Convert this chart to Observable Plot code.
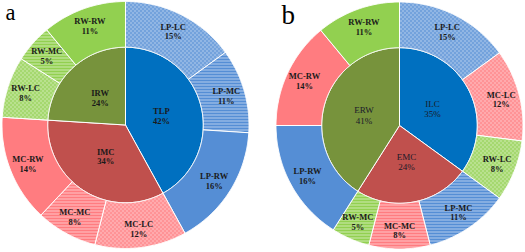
<!DOCTYPE html>
<html><head><meta charset="utf-8">
<script src="https://cdn.jsdelivr.net/npm/d3@7"></script>
<script src="https://cdn.jsdelivr.net/npm/@observablehq/plot@0.6"></script>
<style>
html,body{margin:0;padding:0;background:#fff;}
#wrap{position:relative;width:525px;height:252px;overflow:hidden;}
</style></head><body>
<div id="wrap"></div>
<script>
// ---- data ----
const panelLabels = ["a", "b"];
const innerA = ["TLP", "IMC", "IRW"];
const innerAValues = [42, 34, 24];
const outerA = ["LP-LC", "LP-MC", "LP-RW", "MC-LC", "MC-MC", "MC-RW", "RW-LC", "RW-MC", "RW-RW"];
const outerAValues = [15, 11, 16, 12, 8, 14, 8, 5, 11];
const innerB = ["ILC", "EMC", "ERW"];
const innerBValues = [35, 24, 41];
const outerB = ["LP-LC", "MC-LC", "RW-LC", "LP-MC", "MC-MC", "RW-MC", "LP-RW", "MC-RW", "RW-RW"];
const outerBValues = [15, 12, 8, 11, 8, 5, 16, 14, 11];

// ---- styles ----
const innerColors = {blue: "#0070C0", red: "#C0504D", olive: "#77933C"};
const innerColorOf = {TLP: "blue", IMC: "red", IRW: "olive", ILC: "blue", EMC: "red", ERW: "olive"};
const outerBase = {LP: "#558ED5", MC: "#FF7C80", RW: "#92D050"};

// ---- layout ----
const W = 525, H = 252, unit = 123.5;
const centers = [{cx: 0, cy: 0}, {cx: (399 - 125) / unit, cy: (124.5 - 125) / unit}];
const rInner = 0.63, rOuter = 1, rLabOut = 0.85, rLabIn = 0.3;
const panelPos = [{dx: 5, dy: 12.5, size: 22.5}, {dx: 281, dy: 14.5, size: 27}];

function outerFill(name) {
  const [src, dst] = name.split("-");
  if (dst === "RW") return outerBase[src];
  return `url(#${dst}-${src})`;
}

const polys = [];
const labels = [];
function addSlice(id, cx, cy, r0, r1, a0, a1, fill) {
  const n = Math.max(2, Math.ceil((a1 - a0) * 720));
  const pts = [];
  for (let i = 0; i <= n; i++) {
    const t = 2 * Math.PI * (a0 + (a1 - a0) * i / n);
    pts.push([cx + r1 * Math.sin(t), cy + r1 * Math.cos(t)]);
  }
  if (r0 > 0) {
    for (let i = n; i >= 0; i--) {
      const t = 2 * Math.PI * (a0 + (a1 - a0) * i / n);
      pts.push([cx + r0 * Math.sin(t), cy + r0 * Math.cos(t)]);
    }
  } else pts.push([cx, cy]);
  pts.push(pts[0]);
  for (const [x, y] of pts) polys.push({id, x, y, fill});
}
function addRing(key, names, values, cx, cy, r0, r1, rl, inner, bold) {
  const tot = d3.sum(values);
  let acc = 0;
  names.forEach((nm, i) => {
    const a0 = acc / tot, a1 = (acc + values[i]) / tot;
    acc += values[i];
    const fill = inner ? innerColors[innerColorOf[nm]] : outerFill(nm);
    addSlice(key + nm, cx, cy, r0, r1, a0, a1, fill);
    const m = 2 * Math.PI * (a0 + a1) / 2;
    labels.push({x: cx + rl * Math.sin(m), y: cy + rl * Math.cos(m), text: nm + "\n" + values[i] + "%", bold});
  });
}
addRing("aI", innerA, innerAValues, centers[0].cx, centers[0].cy, 0, rInner, rLabIn, true, true);
addRing("aO", outerA, outerAValues, centers[0].cx, centers[0].cy, rInner, rOuter, rLabOut, false, true);
addRing("bI", innerB, innerBValues, centers[1].cx, centers[1].cy, 0, rInner, rLabIn, true, false);
addRing("bO", outerB, outerBValues, centers[1].cx, centers[1].cy, rInner, rOuter, rLabOut, false, true);

const chart = Plot.plot({
  width: W, height: H,
  margin: 0,
  x: {domain: [-125 / unit, (W - 125) / unit], axis: null},
  y: {domain: [-(H - 124.5) / unit, 124.5 / unit], axis: null},
  color: {type: "identity"},
  marks: [
    Plot.line(polys, {x: "x", y: "y", z: "id", fill: "fill", stroke: "white", strokeWidth: 1, curve: "linear"}),
    Plot.text(labels.filter(d => d.bold), {x: "x", y: "y", text: "text", fontFamily: "Liberation Serif", fontSize: 8.5, fontWeight: "bold", fill: "#1a1a1a", lineHeight: 1.15}),
    Plot.text(labels.filter(d => !d.bold), {x: "x", y: "y", text: "text", fontFamily: "Liberation Serif", fontSize: 9, fill: "#1a1a2a", lineHeight: 1.15}),
    ...panelLabels.map((t, i) => Plot.text([t], {
      text: d => d, frameAnchor: "top-left", textAnchor: "start", lineAnchor: "middle",
      dx: panelPos[i].dx, dy: panelPos[i].dy, fontSize: panelPos[i].size,
      fontFamily: "Liberation Serif", fill: "#000"
    }))
  ]
});

// patterns
const defs = d3.select(chart).insert("defs", ":first-child");
for (const [src, base] of Object.entries(outerBase)) {
  const lc = defs.append("pattern").attr("id", `LC-${src}`).attr("width", 4).attr("height", 4).attr("patternUnits", "userSpaceOnUse");
  lc.append("rect").attr("width", 4).attr("height", 4).attr("fill", base);
  for (const [x, y] of [[0,0],[1,1],[2,2],[3,3],[1,3],[3,1]]) {
    lc.append("rect").attr("x", x).attr("y", y).attr("width", 1).attr("height", 1).attr("fill", "white").attr("fill-opacity", 0.7);
  }
  const mc = defs.append("pattern").attr("id", `MC-${src}`).attr("width", 4).attr("height", 3).attr("patternUnits", "userSpaceOnUse");
  mc.append("rect").attr("width", 4).attr("height", 3).attr("fill", base);
  mc.append("rect").attr("y", 0).attr("width", 4).attr("height", 1).attr("fill", "white").attr("fill-opacity", 0.55);
}

document.getElementById("wrap").appendChild(chart);
</script>
</body></html>
